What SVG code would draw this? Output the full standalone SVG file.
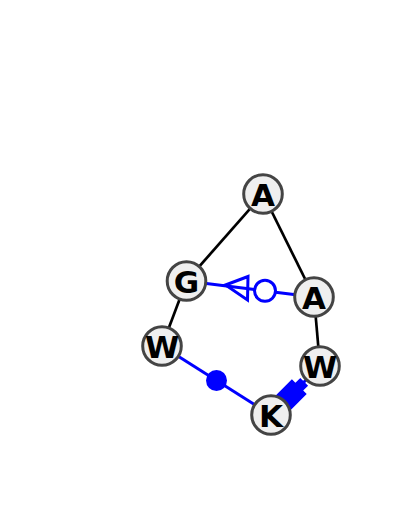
<svg xmlns="http://www.w3.org/2000/svg" width="400" height="527" viewBox="0 0 400 527">
<style>
.edge{stroke:#000;stroke-width:2.7;fill:none}
.blue{stroke:#0000ff;stroke-width:3;fill:none}
.node circle{fill:#efefef;stroke:#444;stroke-width:3}
.node text{font-family:"DejaVu Sans",sans-serif;font-weight:bold;font-size:31px;fill:#000;text-anchor:middle}
</style>
<rect width="400" height="527" fill="#fff"/>
<g id="connectors">
<line class="edge" x1="263" y1="194" x2="186.5" y2="281"/>
<line class="edge" x1="263" y1="194" x2="314" y2="297"/>
<line class="edge" x1="186.5" y1="281" x2="162" y2="346"/>
<line class="edge" x1="314" y1="297" x2="320" y2="366"/>
<g id="e-g-a">
<line class="blue" x1="186.5" y1="281" x2="254.5" y2="289.5"/>
<line class="blue" x1="275.5" y1="292.2" x2="314" y2="297"/>
<polygon class="blue" points="225.5,285 248,276.5 247.5,300"/>
<circle class="blue" cx="265" cy="290.8" r="10.5"/>
</g>
<g id="e-w-k">
<line class="blue" x1="162" y1="346" x2="271" y2="415"/>
<circle cx="216.5" cy="380.5" r="10.5" fill="#0000ff"/>
</g>
<g id="e-k-w">
<line class="blue" x1="271" y1="415" x2="320" y2="366"/>
<polygon fill="#0000ff" points="274.2,397 291.9,379.3 295.4,382.8 300.3,377.9 308.1,385.7 303.2,390.6 306.7,394.1 289,411.8"/>
</g>
</g>
<g id="n-a1" class="node"><circle cx="263" cy="194" r="19.3"/><text x="263" y="205.5">A</text></g>
<g id="n-g" class="node"><circle cx="186.5" cy="281" r="19.3"/><text x="186.5" y="292.5">G</text></g>
<g id="n-a2" class="node"><circle cx="314" cy="297" r="19.3"/><text x="314" y="308.5">A</text></g>
<g id="n-w1" class="node"><circle cx="162" cy="346" r="19.3"/><text x="162" y="357.5">W</text></g>
<g id="n-w2" class="node"><circle cx="320" cy="366" r="19.3"/><text x="320" y="377.5">W</text></g>
<g id="n-k" class="node"><circle cx="271" cy="415" r="19.3"/><text x="271" y="426.5">K</text></g>
</svg>
